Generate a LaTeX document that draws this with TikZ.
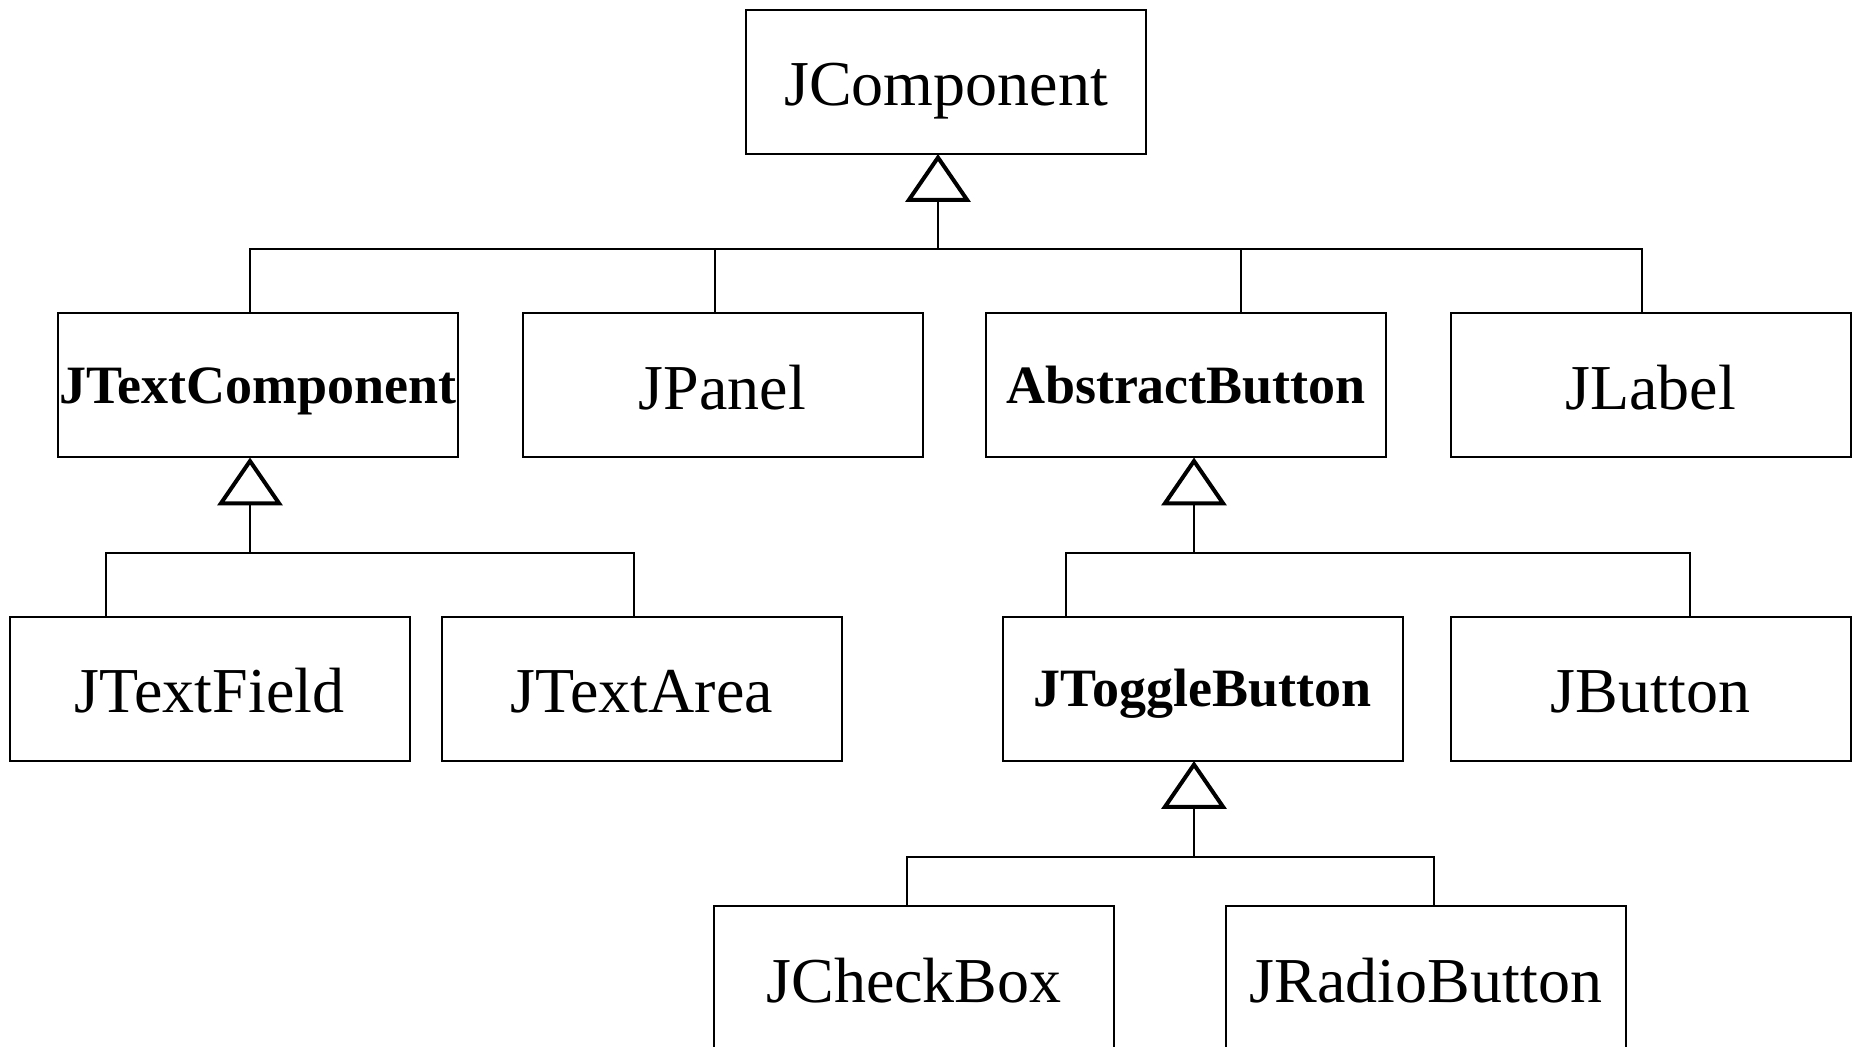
\documentclass[tikz,border=0pt]{standalone}
\usepackage{fontspec}
\setmainfont{Liberation Serif}
\usetikzlibrary{arrows.meta}

\tikzset{
  cls/.style={draw, line width=1pt, minimum width=200pt, minimum height=72pt,
              inner sep=0pt, outer sep=0pt, text height=30pt, text depth=6pt,
              font=\fontsize{32}{38}\selectfont},
  abscls/.style={cls, text height=24pt, text depth=6pt,
                 font=\fontsize{27}{32}\selectfont\bfseries},
  link/.style={line width=1pt},
  inh/.style={line width=1pt,
              -{Triangle[open, width=32.5pt, length=24pt, line width=2pt]}},
}

\begin{document}
\begin{tikzpicture}[x=0.5pt, y=-0.5pt]
  \useasboundingbox (0,0) rectangle (1854,1047);
  \clip (0,0) rectangle (1854,1047);

  % root
  \node[cls] (jcomp) at (946,82) {JComponent};

  % second level
  \node[abscls] (jtc)    at (258,385.5)    {JTextComponent};
  \node[cls]    (jpanel) at (722.5,385.5)  {JPanel};
  \node[abscls] (abtn)   at (1186,385.5)   {AbstractButton};
  \node[cls]    (jlabel) at (1650.5,385.5) {JLabel};

  % third level
  \node[cls]    (jtf)  at (209.5,689)  {JTextField};
  \node[cls]    (jta)  at (642,689)    {JTextArea};
  \node[abscls] (jtog) at (1202.5,689) {JToggleButton};
  \node[cls]    (jbtn) at (1650.5,689) {JButton};

  % fourth level
  \node[cls] (jcb) at (914,978)  {JCheckBox};
  \node[cls] (jrb) at (1426,978) {JRadioButton};

  % JComponent subclasses
  \draw[link] ([xshift=-4pt]jtc.north) -- ++(0,32pt) -| ([xshift=-4.25pt]jlabel.north);
  \draw[link] ([xshift=-4pt]jpanel.north) -- ++(0,32pt);
  \draw[link] ([xshift=27.5pt]abtn.north) -- ++(0,32pt);
  \draw[inh] ([xshift=-4pt,yshift=-47.5pt]jcomp.south) -- ([xshift=-4pt]jcomp.south);

  % JTextComponent subclasses
  \draw[link] ([xshift=-51.75pt]jtf.north) -- ++(0,32pt) -| ([xshift=-4pt]jta.north);
  \draw[inh] ([xshift=-4pt,yshift=-47.5pt]jtc.south) -- ([xshift=-4pt]jtc.south);

  % AbstractButton subclasses
  \draw[link] ([xshift=-68.25pt]jtog.north) -- ++(0,32pt) -| ([xshift=19.75pt]jbtn.north);
  \draw[inh] ([xshift=4pt,yshift=-47.5pt]abtn.south) -- ([xshift=4pt]abtn.south);

  % JToggleButton subclasses
  \draw[link] ([xshift=-3.5pt]jcb.north) -- ++(0,24.5pt) -| ([xshift=4pt]jrb.north);
  \draw[inh] ([xshift=-4.25pt,yshift=-48pt]jtog.south) -- ([xshift=-4.25pt]jtog.south);
\end{tikzpicture}
\end{document}
